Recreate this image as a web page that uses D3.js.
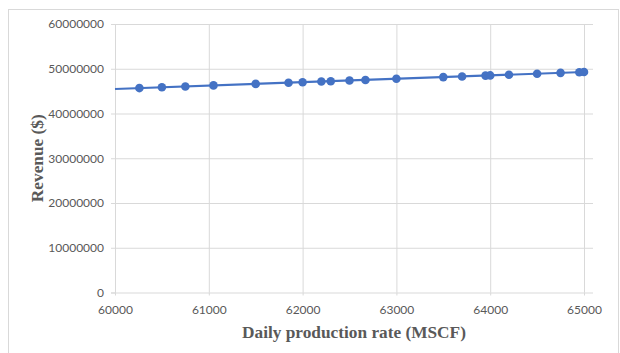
<!DOCTYPE html>
<html>
<head>
<meta charset="utf-8">
<script src="https://cdn.jsdelivr.net/npm/d3@7"></script>
<style>
  body { margin: 0; background: #fff; }
  #chart svg { display: block; }
</style>
</head>
<body>
<div id="chart"></div>
<script>
// daily production rate (MSCF) and revenue ($)
const rates = [60260, 60500, 60750, 61050, 61500, 61850, 62000, 62200, 62300, 62500, 62670,
               63000, 63500, 63700, 63950, 64000, 64200, 64500, 64750, 64950, 65000];
const revenues = [45680000, 45860000, 46050000, 46280000, 46620000, 46880000, 47000000, 47150000,
                  47220000, 47380000, 47500000, 47750000, 48130000, 48280000, 48470000, 48510000,
                  48660000, 48890000, 49080000, 49230000, 49270000];
// linear trendline end points
const trendX = [60000, 65000];
const trendY = [45480000, 49270000];

const xTicks = [60000, 61000, 62000, 63000, 64000, 65000];
const yTicks = [0, 10000000, 20000000, 30000000, 40000000, 50000000, 60000000];

const W = 620, H = 353;
const plot = { left: 115, right: 584, top: 24, bottom: 292.5 };
const blue = "#4472C4", grid = "#d9d9d9", textCol = "#595959";

const svg = d3.select("#chart").append("svg")
    .attr("width", W)
    .attr("height", H);

// chart area border
svg.append("rect")
    .attr("x", 8.5).attr("y", 9.5)
    .attr("width", 610).attr("height", 360)
    .attr("fill", "none")
    .attr("stroke", grid);

const x = d3.scaleLinear().domain([60000, 65000]).range([plot.left, plot.right]);
const y = d3.scaleLinear().domain([0, 60000000]).range([plot.bottom, plot.top]);

// horizontal gridlines + y labels
const yAxis = svg.append("g")
    .attr("transform", `translate(${plot.left},0)`)
    .call(d3.axisLeft(y).tickValues(yTicks).tickFormat(d3.format("d"))
        .tickSize(4).tickPadding(7));
yAxis.select(".domain").attr("stroke", grid);
yAxis.selectAll(".tick line").attr("stroke", grid);
yAxis.selectAll(".tick").append("line")
    .attr("x1", 0).attr("x2", 593 - plot.left)
    .attr("stroke", grid);
yAxis.selectAll("text")
    .attr("fill", textCol)
    .style("font-family", "Lato, 'Open Sans', sans-serif")
    .style("font-size", "12px");

// vertical gridlines + x labels
const xAxis = svg.append("g")
    .attr("transform", `translate(0,${plot.bottom})`)
    .call(d3.axisBottom(x).tickValues(xTicks).tickFormat(d3.format("d"))
        .tickSize(3).tickPadding(10));
xAxis.select(".domain").remove();
xAxis.selectAll(".tick line").attr("stroke", grid);
xAxis.selectAll(".tick").append("line")
    .attr("y1", 0).attr("y2", plot.top - plot.bottom)
    .attr("stroke", grid);
xAxis.selectAll("text")
    .attr("fill", textCol)
    .style("font-family", "Lato, 'Open Sans', sans-serif")
    .style("font-size", "12px");

// trendline
svg.append("path")
    .attr("d", d3.line()(trendX.map((d, i) => [x(d), y(trendY[i])])))
    .attr("fill", "none")
    .attr("stroke", blue)
    .attr("stroke-width", 2.2);

// points
svg.append("g").selectAll("circle")
    .data(rates)
    .enter().append("circle")
    .attr("cx", d => x(d))
    .attr("cy", (d, i) => y(revenues[i]))
    .attr("r", 4.3)
    .attr("fill", blue);

// axis titles
svg.append("text")
    .attr("x", (plot.left + 593) / 2)
    .attr("y", 338)
    .attr("text-anchor", "middle")
    .attr("fill", textCol)
    .style("font-family", "'Liberation Serif', 'Times New Roman', serif")
    .style("font-weight", "bold")
    .style("font-size", "17.3px")
    .text("Daily production rate (MSCF)");

svg.append("text")
    .attr("transform", `translate(43,${(plot.top + plot.bottom) / 2}) rotate(-90)`)
    .attr("text-anchor", "middle")
    .attr("fill", textCol)
    .style("font-family", "'Liberation Serif', 'Times New Roman', serif")
    .style("font-weight", "bold")
    .style("font-size", "17.3px")
    .text("Revenue ($)");
</script>
</body>
</html>
